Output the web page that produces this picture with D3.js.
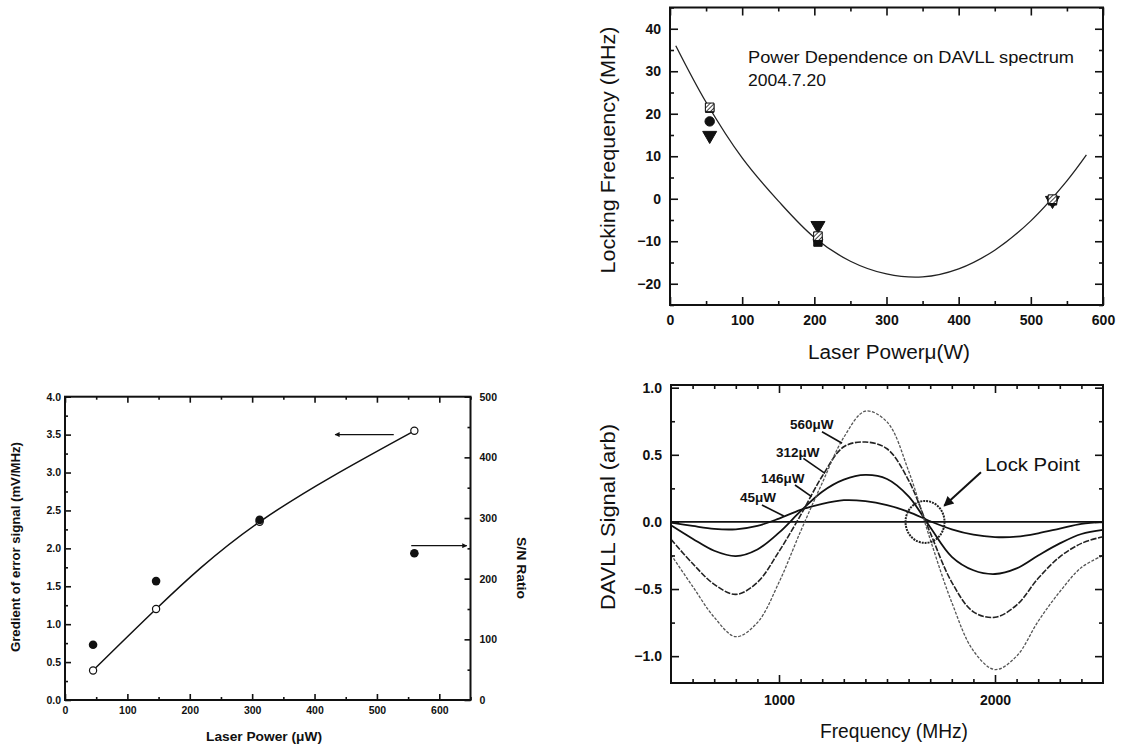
<!DOCTYPE html>
<html>
<head>
<meta charset="utf-8">
<title>DAVLL power dependence</title>
<script src="https://d3js.org/d3.v7.min.js"></script>
<style>
body { margin: 0; background: #fff; }
svg text { font-family: "Liberation Sans", Arial, sans-serif; fill: #111; }
</style>
</head>
<body>
<svg id="fig" width="1127" height="750"></svg>
<script>
// ---- top right: locking frequency vs laser power ----
var lockPower = [55, 205, 530];
var lockSquare = [21.3, -10.2, -0.5];
var lockHatched = [21.5, -8.8, -0.1];
var lockCircle = [18.2, -9.6, -0.3];
var lockTriDown = [14.9, -6.3, -0.4];
var fitPower = [8, 50, 100, 150, 200, 250, 300, 350, 400, 450, 500, 550, 577];
var fitFreq = [36, 22.7, 9.6, -0.5, -9.1, -14.7, -17.7, -18.4, -16.5, -12.1, -5.2, 4.2, 10.3];

// ---- bottom left: gradient and S/N vs laser power ----
var gradPower = [45, 146, 312, 560];
var gradSignal = [0.39, 1.20, 2.35, 3.55];
var snRatio = [91, 196, 297, 242];

// ---- bottom right: DAVLL signal vs frequency ----
var freqMHz = [500, 600, 700, 800, 900, 1000, 1100, 1200, 1300, 1400, 1500,
               1600, 1700, 1800, 1900, 2000, 2100, 2200, 2300, 2400, 2500];
var sig45  = [-0.005, -0.03, -0.052, -0.055, -0.03, 0.025, 0.09, 0.135, 0.162, 0.155, 0.125,
              0.075, 0.005, -0.055, -0.095, -0.113, -0.11, -0.085, -0.05, -0.015, 0.0];
var sig146 = [-0.025, -0.125, -0.215, -0.255, -0.205, -0.08, 0.08, 0.225, 0.315, 0.35, 0.32,
              0.19, -0.04, -0.26, -0.36, -0.388, -0.346, -0.25, -0.16, -0.09, -0.06];
var sig312 = [-0.13, -0.31, -0.465, -0.54, -0.45, -0.22, 0.05, 0.34, 0.56, 0.595, 0.545,
              0.31, -0.08, -0.45, -0.67, -0.71, -0.62, -0.42, -0.26, -0.16, -0.11];
var sig560 = [-0.245, -0.48, -0.71, -0.855, -0.75, -0.45, -0.07, 0.29, 0.63, 0.825, 0.745,
              0.38, -0.13, -0.6, -0.96, -1.1, -1.0, -0.74, -0.52, -0.34, -0.25];
var sigLabels = ["45\u03bcW", "146\u03bcW", "312\u03bcW", "560\u03bcW"];

var svg = d3.select("#fig");
svg.append("rect").attr("width", 1127).attr("height", 750).attr("fill", "#fff");

var defs = svg.append("defs");
var hatch = defs.append("pattern").attr("id", "hatch").attr("width", 3).attr("height", 3)
  .attr("patternUnits", "userSpaceOnUse").attr("patternTransform", "rotate(45)");
hatch.append("rect").attr("width", 3).attr("height", 3).attr("fill", "#fff");
hatch.append("line").attr("x1", 0).attr("y1", 0).attr("x2", 0).attr("y2", 3)
  .attr("stroke", "#111").attr("stroke-width", 1.6);
function arrowHead(id, w, h) {
  defs.append("marker").attr("id", id).attr("viewBox", "0 0 10 10")
    .attr("refX", 9).attr("refY", 5).attr("markerWidth", w).attr("markerHeight", h)
    .attr("markerUnits", "userSpaceOnUse").attr("orient", "auto")
    .append("path").attr("d", "M0,0 L10,5 L0,10 Z").attr("fill", "#111");
}
arrowHead("headBig", 13, 10);
arrowHead("headSmall", 9, 5);

// inward ticks on all four sides, labels on the chosen ones
function ticks(g, x, y, o) {
  var xr = x.range(), yr = y.range();
  function put(axis, tr, vals, len, fmt, fs, pad) {
    var a = g.append("g").attr("transform", tr)
      .call(axis.tickValues(vals).tickSizeInner(-len).tickSizeOuter(0)
        .tickPadding(pad || 0).tickFormat(fmt || ""));
    a.select(".domain").remove();
    a.selectAll("line").attr("stroke", "#111").attr("stroke-width", 1.6);
    a.selectAll("text").attr("font-size", fs).attr("font-weight", "bold").attr("fill", "#111");
    return a;
  }
  var b = "translate(0," + yr[0] + ")", t = "translate(0," + yr[1] + ")";
  var l = "translate(" + xr[0] + ",0)", r = "translate(" + xr[1] + ",0)";
  put(d3.axisBottom(x), b, o.xMinor, o.minLen);
  put(d3.axisTop(x), t, o.xMinor, o.minLen);
  put(d3.axisBottom(x), b, o.xMajor, o.majLen, o.xFmt, o.fs, o.xPad);
  put(d3.axisTop(x), t, o.xMajor, o.majLen);
  put(d3.axisLeft(y), l, o.yMinor, o.minLen);
  put(d3.axisLeft(y), l, o.yMajor, o.majLen, o.yFmt, o.fs, o.yPad);
  if (!o.y2) {
    put(d3.axisRight(y), r, o.yMinor, o.minLen);
    put(d3.axisRight(y), r, o.yMajor, o.majLen);
  } else {
    put(d3.axisRight(o.y2), r, o.y2Minor, o.minLen);
    put(d3.axisRight(o.y2), r, o.y2Major, o.majLen, d3.format("d"), o.fs, o.y2Pad);
  }
  g.append("rect").attr("x", xr[0]).attr("y", yr[1])
    .attr("width", xr[1] - xr[0]).attr("height", yr[0] - yr[1])
    .attr("fill", "none").attr("stroke", "#111").attr("stroke-width", 2);
}

function title(g, txt, x, y, fs, rot, weight, len) {
  var t = g.append("text").attr("transform", "translate(" + x + "," + y + ") rotate(" + rot + ")")
    .attr("text-anchor", "middle").attr("dy", "0.35em")
    .attr("font-size", fs).attr("font-weight", weight || "normal").text(txt);
  if (len) t.attr("textLength", len).attr("lengthAdjust", "spacingAndGlyphs");
  return t;
}

// ================= top right =================
(function () {
  var g = svg.append("g");
  var x = d3.scaleLinear().domain([0, 600]).range([670, 1103]);
  var y = d3.scaleLinear().domain([-25, 45]).range([305, 7.5]);

  var fit = fitPower.map(function (p, i) { return [p, fitFreq[i]]; });
  g.append("path").datum(fit)
    .attr("d", d3.line().x(function (d) { return x(d[0]); }).y(function (d) { return y(d[1]); })
      .curve(d3.curveCatmullRom))
    .attr("fill", "none").attr("stroke", "#222").attr("stroke-width", 1.3);

  function pts(vals, type, fill, size, rot) {
    g.selectAll(null).data(vals).enter().append("path")
      .attr("transform", function (d, i) {
        return "translate(" + x(lockPower[i]) + "," + y(d) + ") rotate(" + (rot || 0) + ")";
      })
      .attr("d", d3.symbol().type(type).size(size))
      .attr("fill", fill).attr("stroke", "#111").attr("stroke-width", 1);
  }
  pts(lockSquare, d3.symbolSquare, "#111", 70);
  pts(lockTriDown, d3.symbolTriangle, "#111", 85, 180);
  pts(lockCircle, d3.symbolCircle, "#111", 70);
  pts(lockHatched, d3.symbolSquare, "url(#hatch)", 75);

  ticks(g, x, y, {
    xMajor: d3.range(0, 601, 100), xMinor: d3.range(50, 600, 100),
    yMajor: d3.range(-20, 41, 10), yMinor: d3.range(-25, 46, 10),
    majLen: 8, minLen: 4, fs: 14, xPad: 10, yPad: 9,
    xFmt: d3.format("d"), yFmt: d3.format("d")
  });

  g.append("text").attr("x", 748).attr("y", 63).attr("font-size", 16)
    .attr("textLength", 326).attr("lengthAdjust", "spacingAndGlyphs")
    .text("Power Dependence on DAVLL spectrum");
  g.append("text").attr("x", 748).attr("y", 86).attr("font-size", 16)
    .attr("textLength", 78).attr("lengthAdjust", "spacingAndGlyphs")
    .text("2004.7.20");

  title(g, "Locking Frequency (MHz)", 608, 150, 21, -90, "normal", 247);
  title(g, "Laser Power\u03bc(W)", 889, 352, 20, 0, "normal", 162);
})();

// ================= bottom left =================
(function () {
  var g = svg.append("g");
  var x = d3.scaleLinear().domain([0, 650]).range([65, 470.5]);
  var y = d3.scaleLinear().domain([0, 4]).range([700, 396.7]);
  var y2 = d3.scaleLinear().domain([0, 500]).range([700, 396.7]);

  var grad = gradPower.map(function (p, i) { return [p, gradSignal[i]]; });
  g.append("path").datum(grad)
    .attr("d", d3.line().x(function (d) { return x(d[0]); }).y(function (d) { return y(d[1]); })
      .curve(d3.curveNatural))
    .attr("fill", "none").attr("stroke", "#111").attr("stroke-width", 1.5);
  g.selectAll(null).data(grad).enter().append("circle")
    .attr("cx", function (d) { return x(d[0]); }).attr("cy", function (d) { return y(d[1]); })
    .attr("r", 3.6).attr("fill", "#fff").attr("stroke", "#111").attr("stroke-width", 1.2);
  g.selectAll(null).data(snRatio).enter().append("circle")
    .attr("cx", function (d, i) { return x(gradPower[i]); }).attr("cy", function (d) { return y2(d); })
    .attr("r", 4.3).attr("fill", "#111");

  // arrows pointing to the axis each series belongs to
  g.append("line").attr("x1", x(527)).attr("x2", x(433)).attr("y1", y(3.5)).attr("y2", y(3.5))
    .attr("stroke", "#111").attr("stroke-width", 1.3).attr("marker-end", "url(#headSmall)");
  g.append("line").attr("x1", x(555)).attr("x2", x(644)).attr("y1", y(2.035)).attr("y2", y(2.035))
    .attr("stroke", "#111").attr("stroke-width", 1.3).attr("marker-end", "url(#headSmall)");

  ticks(g, x, y, {
    xMajor: d3.range(0, 601, 100), xMinor: d3.range(50, 651, 100),
    yMajor: d3.range(0, 4.01, 0.5), yMinor: d3.range(0.25, 4, 0.5),
    y2: y2, y2Major: d3.range(0, 501, 100), y2Minor: d3.range(50, 500, 100),
    majLen: 6, minLen: 3, fs: 10.5, xPad: 7, yPad: 4, y2Pad: 9,
    xFmt: d3.format("d"), yFmt: d3.format(".1f")
  });

  title(g, "Gredient of error signal (mV/MHz)", 16, 547, 12.5, -90, "bold", 210);
  title(g, "S/N Ratio", 522, 568, 13, 90, "bold", 62);
  title(g, "Laser Power (\u03bcW)", 264, 737, 12.5, 0, "bold", 116);
})();

// ================= bottom right =================
(function () {
  var g = svg.append("g");
  var x = d3.scaleLinear().domain([500, 2500]).range([671, 1103]);
  var y = d3.scaleLinear().domain([-1.2, 1.02]).range([683, 385]);

  g.append("line").attr("x1", x(500)).attr("x2", x(2500)).attr("y1", y(0)).attr("y2", y(0))
    .attr("stroke", "#111").attr("stroke-width", 1.6);

  var series = [sig45, sig146, sig312, sig560];
  var styles = [
    { c: "#111", w: 1.8, dash: null },
    { c: "#111", w: 1.8, dash: null },
    { c: "#222", w: 1.6, dash: "6,1.5" },
    { c: "#555", w: 1.3, dash: "3,1.5" }
  ];
  var line = d3.line().x(function (d, i) { return x(freqMHz[i]); }).y(function (d) { return y(d); })
    .curve(d3.curveCatmullRom);
  series.forEach(function (s, k) {
    g.append("path").datum(s).attr("d", line)
      .attr("fill", "none").attr("stroke", styles[k].c).attr("stroke-width", styles[k].w)
      .attr("stroke-dasharray", styles[k].dash);
  });

  // curve labels with leader lines: text position, then line from (f, v) to (f, v)
  var labelPos = [
    { tx: 740, ty: 497, l: [[921, 0.126], [1022, 0.044]] },
    { tx: 761, ty: 478, l: [[1074, 0.275], [1151, 0.188]] },
    { tx: 776, ty: 452, l: [[1113, 0.474], [1213, 0.362]] },
    { tx: 790, ty: 424, l: [[1199, 0.672], [1292, 0.586]] }
  ];
  labelPos.forEach(function (p, k) {
    g.append("text").attr("x", p.tx).attr("y", p.ty).attr("dy", "0.35em")
      .attr("font-size", 13.5).attr("font-weight", "bold").text(sigLabels[k]);
    g.append("line")
      .attr("x1", x(p.l[0][0])).attr("y1", y(p.l[0][1]))
      .attr("x2", x(p.l[1][0])).attr("y2", y(p.l[1][1]))
      .attr("stroke", "#111").attr("stroke-width", 1.6);
  });

  // lock point marker
  g.append("ellipse").attr("cx", x(1676)).attr("cy", y(0)).attr("rx", 19.5).attr("ry", 21)
    .attr("fill", "none").attr("stroke", "#222").attr("stroke-width", 2)
    .attr("stroke-dasharray", "2,1");
  g.append("line").attr("x1", x(1935)).attr("y1", y(0.37)).attr("x2", x(1765)).attr("y2", y(0.12))
    .attr("stroke", "#111").attr("stroke-width", 2).attr("marker-end", "url(#headBig)");
  g.append("text").attr("x", 985).attr("y", 471).attr("font-size", 19)
    .attr("textLength", 95).attr("lengthAdjust", "spacingAndGlyphs").text("Lock Point");

  ticks(g, x, y, {
    xMajor: [1000, 2000], xMinor: d3.range(600, 2500, 100).filter(function (v) { return v % 1000; }),
    yMajor: [-1, -0.5, 0, 0.5, 1], yMinor: [-0.75, -0.25, 0.25, 0.75],
    majLen: 8, minLen: 4, fs: 14, xPad: 12, yPad: 9,
    xFmt: d3.format("d"), yFmt: d3.format(".1f")
  });

  title(g, "DAVLL Signal (arb)", 608, 517, 21, -90, "normal", 186);
  title(g, "Frequency (MHz)", 894, 731, 20, 0, "normal", 148);
})();
</script>
</body>
</html>
